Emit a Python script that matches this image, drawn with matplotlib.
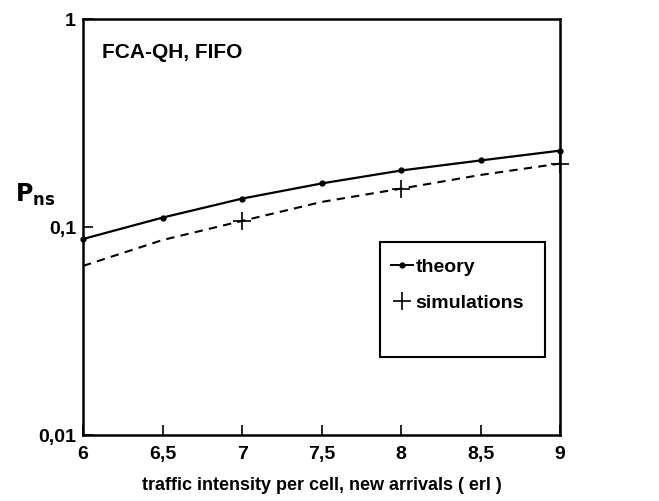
import matplotlib
matplotlib.use("Agg")
import matplotlib.pyplot as plt
from matplotlib.lines import Line2D
from matplotlib.patches import Rectangle

plt.rcParams["font.family"] = ["Liberation Sans", "DejaVu Sans"]
plt.rcParams["font.weight"] = "bold"

# data
traffic = [6, 6.5, 7, 7.5, 8, 8.5, 9]
theory = [0.0876, 0.111, 0.137, 0.162, 0.187, 0.209, 0.233]
sim_curve = [0.065, 0.0866, 0.107, 0.132, 0.153, 0.178, 0.202]
sim_x = [7, 8, 9]
sim_points = [0.107, 0.153, 0.202]

x_ticks = [6, 6.5, 7, 7.5, 8, 8.5, 9]
x_tick_labels = ["6", "6,5", "7", "7,5", "8", "8,5", "9"]
y_ticks = [0.01, 0.1, 1]
y_tick_labels = ["0,01", "0,1", "1"]

fig = plt.figure(figsize = (6.59, 5.01), dpi = 100)
ax = fig.add_axes([0.126, 0.1317, 0.724, 0.8303])

ax.plot(traffic, theory, color = "black", lw = 1.6, marker = "o", ms = 3.5, clip_on = False)
ax.plot(traffic, sim_curve, color = "black", lw = 1.5, ls = (0, (4, 3)), clip_on = False)
ax.plot(sim_x, sim_points, ls = "none", color = "black", marker = "+", ms = 13, mew = 1.2, clip_on = False)

ax.set_yscale("log")
ax.set_xlim(6, 9)
ax.set_ylim(0.01, 1)
ax.set_xticks(x_ticks)
ax.set_xticklabels(x_tick_labels, fontsize = 14, fontweight = "bold")
ax.set_yticks(y_ticks)
ax.set_yticklabels(y_tick_labels, fontsize = 14, fontweight = "bold")
ax.minorticks_off()
ax.tick_params(direction = "in", length = 7, width = 1.2)
ax.tick_params(axis = "x", pad = 8)
ax.tick_params(axis = "y", pad = 5)
for spine in ax.spines.values():
    spine.set_linewidth(1.8)

ax.set_xlabel("traffic intensity per cell, new arrivals ( erl )", fontsize = 13,
              fontweight = "bold", labelpad = 10)
fig.text(0.023, 0.61, r"$\mathbf{P}_{\mathbf{ns}}$", fontsize = 17, ha = "left", va = "center")
ax.text(0.04, 0.92, "FCA-QH, FIFO", transform = ax.transAxes, fontsize = 15,
        fontweight = "bold", ha = "left", va = "center")

# legend box
ax.add_patch(Rectangle((0.623, 0.1875), 0.346, 0.277, transform = ax.transAxes,
                       fill = False, edgecolor = "black", lw = 1.5))
handles = [
    Line2D([], [], color = "black", lw = 1.4, marker = "o", ms = 3.5),
    Line2D([], [], color = "black", lw = 0, marker = "+", ms = 13, mew = 1.2),
]
leg = ax.legend(handles, ["theory", "simulations"], loc = "upper left",
                bbox_to_anchor = (0.638, 0.435), frameon = False,
                fontsize = 14, handlelength = 1.1, handletextpad = 0.15,
                borderaxespad = 0, labelspacing = 0.95, borderpad = 0.2)
for t in leg.get_texts():
    t.set_fontweight("bold")

plt.savefig("out.png", dpi = 100)
plt.close()
